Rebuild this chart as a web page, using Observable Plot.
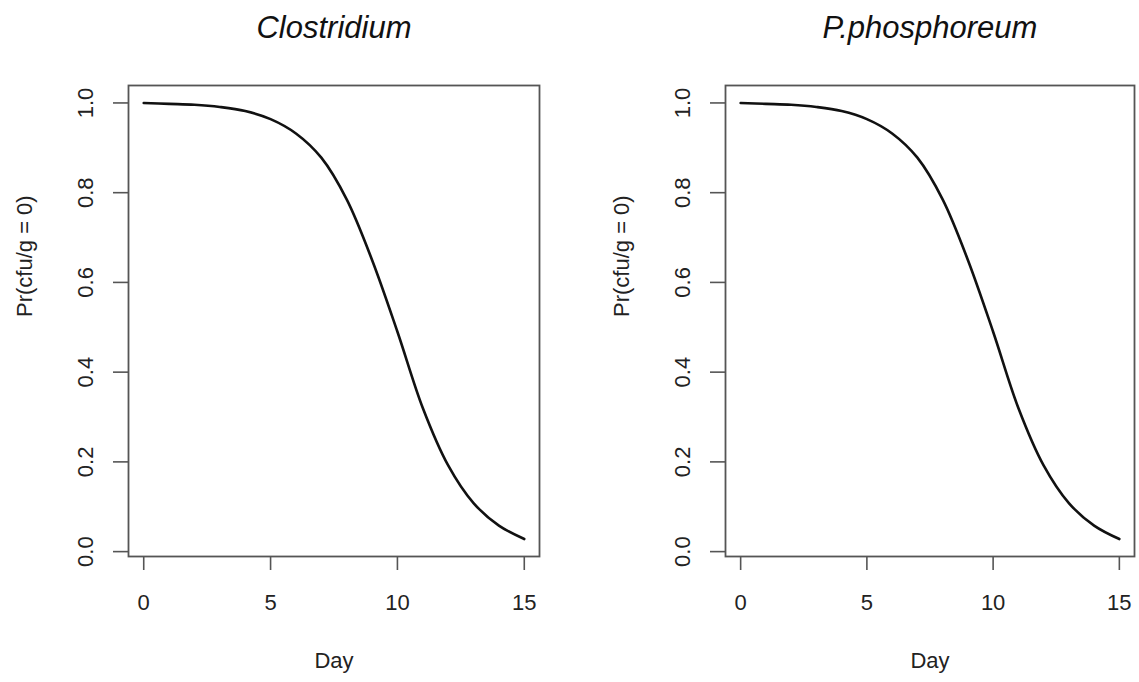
<!DOCTYPE html>
<html>
<head>
<meta charset="utf-8">
<script src="https://cdn.jsdelivr.net/npm/d3@7"></script>
<script src="https://cdn.jsdelivr.net/npm/@observablehq/plot@0.6"></script>
<style>
  html, body { margin: 0; padding: 0; background: #fff; }
  #wrap { position: relative; width: 1139px; height: 682px; }
  #left { position: absolute; left: 0; top: 0; }
  #right { position: absolute; left: 596px; top: 0; }
  svg { font-family: "Liberation Sans", Arial, Helvetica, sans-serif; }
</style>
</head>
<body>
<div id="wrap"><div id="left"></div><div id="right"></div></div>
<script>
// ---- data ----
const days = [0, 1, 2, 3, 4, 5, 6, 7, 8, 9, 10, 11, 12, 13, 14, 15];
const clostridium = [1.000, 0.998, 0.996, 0.991, 0.982, 0.964, 0.932, 0.878, 0.785, 0.650, 0.490, 0.320, 0.192, 0.108, 0.058, 0.028];
const phosphoreum = [1.000, 0.998, 0.996, 0.991, 0.982, 0.964, 0.932, 0.878, 0.785, 0.650, 0.490, 0.320, 0.192, 0.108, 0.058, 0.028];
const panelTitles = ["Clostridium", "P.phosphoreum"];
const xTicks = [0, 5, 10, 15];
const yTicks = [0.0, 0.2, 0.4, 0.6, 0.8, 1.0];
const xLabel = "Day";
const yLabel = "Pr(cfu/g = 0)";

const fontFamily = '"Liberation Sans", Arial, Helvetica, sans-serif';

function panel(title, values, width, marginLeft, marginRight) {
  const rows = days.map((d, i) => ({day: d, p: values[i]}));
  // R-style 4% axis extension
  const xmin = d3.min(days), xmax = d3.max(days);
  const ymin = d3.min(values), ymax = d3.max(values);
  const xe = (xmax - xmin) * 0.04, ye = (ymax - ymin) * 0.04;
  return Plot.plot({
    width,
    height: 682,
    marginLeft,
    marginRight,
    marginTop: 85,
    marginBottom: 126,
    style: {fontFamily, background: "white", color: "#222"},
    x: {domain: [xmin - xe, xmax + xe]},
    y: {domain: [ymin - ye, ymax + ye]},
    marks: [
      Plot.axisX({ticks: xTicks, tickSize: 14, tickPadding: 24, fontSize: 22, label: null, stroke: "#555", strokeWidth: 1.6, color: "#222"}),
      Plot.axisY({ticks: yTicks, tickSize: 15, tickFormat: () => "", label: null, stroke: "#555", strokeWidth: 1.6}),
      Plot.text(yTicks, {
        y: d => d, text: d => d3.format(".1f")(d), frameAnchor: "left", dx: -36,
        rotate: -90, lineAnchor: "bottom", textAnchor: "middle", fontSize: 22, fill: "#222"
      }),
      Plot.frame({stroke: "#555", strokeWidth: 1.8}),
      Plot.line(rows, {x: "day", y: "p", stroke: "#111", strokeWidth: 2.6, curve: "catmull-rom"}),
      Plot.text([title], {text: d => d, frameAnchor: "top", dy: -70, lineAnchor: "top", fontSize: 31, fontStyle: "italic", fill: "#111"}),
      Plot.text([xLabel], {text: d => d, frameAnchor: "bottom", dy: 96, lineAnchor: "top", fontSize: 22, fill: "#222"}),
      Plot.text([yLabel], {text: d => d, frameAnchor: "left", dx: -97, dy: -4, rotate: -90, lineAnchor: "bottom", fontSize: 22, fill: "#222"})
    ]
  });
}

document.getElementById("left").append(panel(panelTitles[0], clostridium, 596, 128, 57));
document.getElementById("right").append(panel(panelTitles[1], phosphoreum, 543, 129, 5));
</script>
</body>
</html>
